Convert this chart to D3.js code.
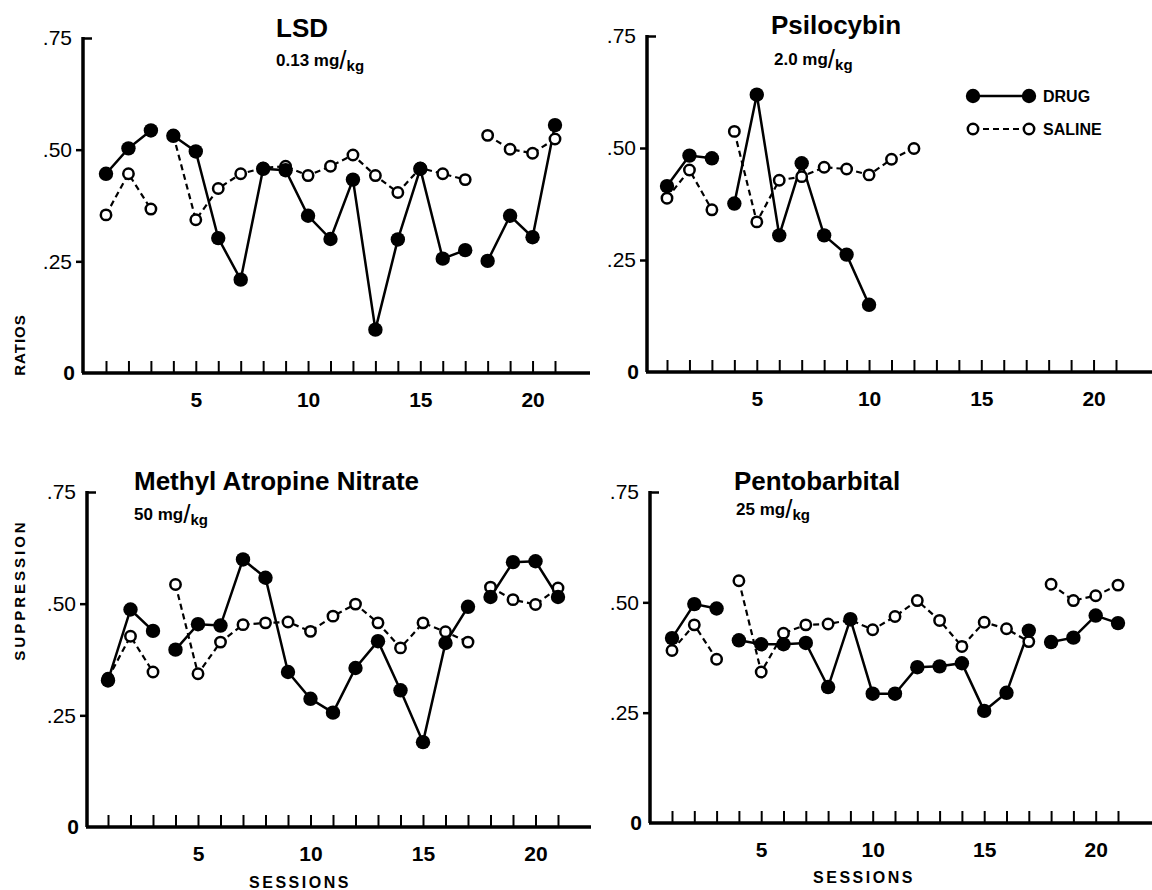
<!DOCTYPE html>
<html>
<head>
<meta charset="utf-8">
<script src="https://cdn.jsdelivr.net/npm/d3@7"></script>
<style>
  body { margin: 0; background: #fff; }
  svg { display: block; font-family: "Liberation Sans", Arial, sans-serif; }
</style>
</head>
<body>
<div id="chart"></div>
<script>
/***** Data *****/
const sessions = [1,2,3,4,5,6,7,8,9,10,11,12,13,14,15,16,17,18,19,20,21];
const xTickLabels = [5, 10, 15, 20];
const yTicks = [0, 0.25, 0.5, 0.75];
const yTickLabels = ["0", ".25", ".50", ".75"];
// runs of sessions that are joined by a line
const blocks = [[1,3],[4,17],[18,21]];

const lsdDrug   = [0.446,0.503,0.543,0.531,0.496,0.302,0.209,0.457,0.454,0.352,0.300,0.433,0.097,0.299,0.457,0.256,0.275,0.251,0.352,0.304,0.555];
const lsdSaline = [0.354,0.446,0.367,0.532,0.343,0.413,0.446,0.459,0.463,0.442,0.463,0.488,0.442,0.404,0.459,0.446,0.433,0.532,0.501,0.492,0.524];

const psiloDrug   = [0.415,0.483,0.477,0.376,0.619,0.305,0.466,0.305,0.262,0.150,null,null,null,null,null,null,null,null,null,null,null];
const psiloSaline = [0.388,0.451,0.362,0.537,0.335,0.428,0.436,0.457,0.453,0.440,0.475,0.499,null,null,null,null,null,null,null,null,null];

const methylDrug   = [0.328,0.487,0.439,0.397,0.454,0.451,0.599,0.558,0.347,0.287,0.256,0.356,0.416,0.306,0.190,0.412,0.493,0.515,0.593,0.595,0.515];
const methylSaline = [0.333,0.427,0.347,0.543,0.343,0.414,0.453,0.457,0.459,0.438,0.472,0.499,0.457,0.401,0.457,0.437,0.414,0.537,0.509,0.498,0.535];

const pentoDrug   = [0.419,0.496,0.486,0.414,0.405,0.405,0.408,0.308,0.462,0.293,0.293,0.353,0.355,0.362,0.254,0.295,0.436,0.410,0.420,0.470,0.453];
const pentoSaline = [0.391,0.449,0.371,0.549,0.342,0.430,0.449,0.451,0.460,0.438,0.468,0.504,0.459,0.400,0.455,0.440,0.411,0.541,0.504,0.515,0.539];

const titles = ["LSD", "Psilocybin", "Methyl Atropine Nitrate", "Pentobarbital"];
const doses  = ["0.13 mg", "2.0 mg", "50 mg", "25 mg"];
const legendLabels = ["DRUG", "SALINE"];

/***** Layout (pixel placement of each panel) *****/
const layout = [
  { ax: 83,  y0: 373, y75: 38,  x1: 106, x21: 555,  xEnd: 590,  tx: 276, ty: 37,  dx: 276, dy: 66 },
  { ax: 647, y0: 372, y75: 36,  x1: 667, x21: 1116, xEnd: 1152, tx: 771, ty: 34,  dx: 774, dy: 65 },
  { ax: 87,  y0: 827, y75: 492, x1: 108, x21: 558,  xEnd: 591,  tx: 134, ty: 490, dx: 134, dy: 520 },
  { ax: 650, y0: 823, y75: 492, x1: 672, x21: 1118, xEnd: 1152, tx: 734, ty: 490, dx: 736, dy: 515 }
];
const drugs   = [lsdDrug, psiloDrug, methylDrug, pentoDrug];
const salines = [lsdSaline, psiloSaline, methylSaline, pentoSaline];

/***** Build *****/
const W = 1152, H = 890;
const svg = d3.select("#chart").append("svg").attr("width", W).attr("height", H);

layout.forEach((L, i) => {
  const g = svg.append("g");
  const x = d3.scaleLinear().domain([1, 21]).range([L.x1, L.x21]);
  const y = d3.scaleLinear().domain([0, 0.75]).range([L.y0, L.y75]);

  // x axis: ticks point up, labels every 5 sessions
  const gx = g.append("g").attr("transform", `translate(0,${L.y0})`)
    .call(d3.axisBottom(x).tickValues(sessions).tickSizeInner(-12).tickSizeOuter(0)
      .tickPadding(19).tickFormat(d => xTickLabels.includes(d) ? d : ""));
  gx.select(".domain").remove();
  gx.selectAll(".tick line").attr("stroke", "#000").attr("stroke-width", 2);
  gx.selectAll(".tick text").attr("font-size", 21).attr("font-weight", "bold").attr("fill", "#000");
  g.append("line").attr("x1", L.ax - 1).attr("x2", L.xEnd)
    .attr("y1", L.y0).attr("y2", L.y0).attr("stroke", "#000").attr("stroke-width", 3.5);

  // y axis
  const gy = g.append("g").attr("transform", `translate(${L.ax},0)`)
    .call(d3.axisLeft(y).tickValues(yTicks).tickSize(7).tickPadding(4)
      .tickFormat((d, k) => yTickLabels[k]));
  gy.select(".domain").remove();
  gy.selectAll(".tick line").attr("stroke", "#000").attr("stroke-width", 2.5)
    .attr("x2", d => d === 0.75 ? 9 : d === 0 ? 0 : -7);
  gy.selectAll(".tick text").attr("font-size", 21).attr("fill", "#000")
    .attr("font-weight", d => d === 0 ? "bold" : "normal")
    .attr("x", d => d === 0 ? -8 : -11);
  g.append("line").attr("x1", L.ax).attr("x2", L.ax)
    .attr("y1", L.y0).attr("y2", y(0.75) - 1).attr("stroke", "#000").attr("stroke-width", 3.5);

  // title + dose
  g.append("text").attr("x", L.tx).attr("y", L.ty).attr("font-size", 26)
    .attr("font-weight", "bold").text(titles[i]);
  const dose = g.append("text").attr("x", L.dx).attr("y", L.dy)
    .attr("font-size", 17).attr("font-weight", "bold");
  dose.append("tspan").text(doses[i]);
  dose.append("tspan").attr("font-size", 26).attr("font-weight", "normal").attr("dy", 3).text("/");
  dose.append("tspan").attr("dy", 2).attr("font-size", 15).text("kg");

  // lines, drawn block by block
  const line = d3.line().defined(d => d.v != null).x(d => x(d.s)).y(d => y(d.v));
  const rows = arr => sessions.map((s, k) => ({ s, v: arr[k] }));
  const sal = rows(salines[i]), drg = rows(drugs[i]);
  blocks.forEach(([a, b]) => {
    const part = arr => arr.filter(d => d.s >= a && d.s <= b && d.v != null);
    g.append("path").datum(part(sal)).attr("d", line).attr("fill", "none")
      .attr("stroke", "#000").attr("stroke-width", 2.2).attr("stroke-dasharray", "6,4");
    g.append("path").datum(part(drg)).attr("d", line).attr("fill", "none")
      .attr("stroke", "#000").attr("stroke-width", 2.5);
  });

  g.selectAll(".sal").data(sal.filter(d => d.v != null)).join("circle")
    .attr("class", "sal").attr("cx", d => x(d.s)).attr("cy", d => y(d.v))
    .attr("r", 5.2).attr("fill", "#fff").attr("stroke", "#000").attr("stroke-width", 2.5);
  g.selectAll(".drg").data(drg.filter(d => d.v != null)).join("circle")
    .attr("class", "drg").attr("cx", d => x(d.s)).attr("cy", d => y(d.v))
    .attr("r", 7.2).attr("fill", "#000");
});

/***** Axis titles *****/
svg.append("text").attr("transform", "translate(25,345) rotate(-90)")
  .attr("text-anchor", "middle").attr("font-size", 15).attr("font-weight", "bold")
  .attr("letter-spacing", 1).text("RATIOS");
svg.append("text").attr("transform", "translate(25,590) rotate(-90)")
  .attr("text-anchor", "middle").attr("font-size", 15).attr("font-weight", "bold")
  .attr("letter-spacing", 3).text("SUPPRESSION");
[[300, 888], [864, 883]].forEach(([cx, cy]) => {
  svg.append("text").attr("x", cx).attr("y", cy).attr("text-anchor", "middle")
    .attr("font-size", 16).attr("font-weight", "bold").attr("letter-spacing", 2.5).text("SESSIONS");
});

/***** Legend *****/
const lg = svg.append("g");
legendLabels.forEach((lab, k) => {
  const ly = 96 + k * 33;
  lg.append("line").attr("x1", 973).attr("x2", 1029).attr("y1", ly).attr("y2", ly)
    .attr("stroke", "#000").attr("stroke-width", k ? 2.2 : 2.5).attr("stroke-dasharray", k ? "6,4" : null);
  [973, 1029].forEach(cx => {
    lg.append("circle").attr("cx", cx).attr("cy", ly).attr("r", k ? 5.2 : 7.2)
      .attr("fill", k ? "#fff" : "#000").attr("stroke", "#000").attr("stroke-width", k ? 2.5 : 0);
  });
  lg.append("text").attr("x", 1043).attr("y", ly + 6).attr("font-size", 16)
    .attr("font-weight", "bold").text(lab);
});
</script>
</body>
</html>
